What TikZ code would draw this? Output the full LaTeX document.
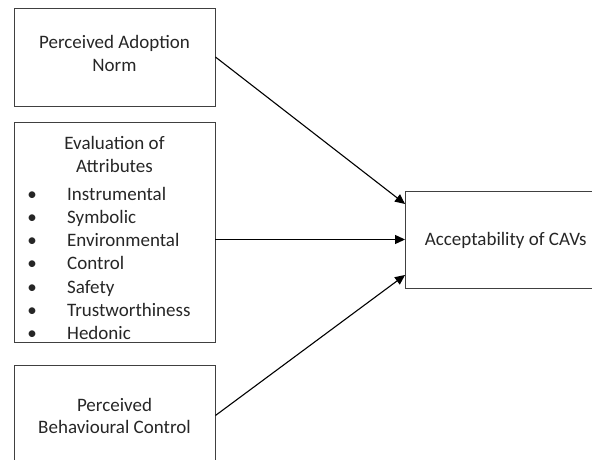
\documentclass[tikz,border=0pt]{standalone}
\usepackage{fontspec}
\setmainfont{Carlito}
\usetikzlibrary{arrows.meta}
\begin{document}
\begin{tikzpicture}[x=1pt,y=-1pt,
  box/.style={draw=black!75, line width=0.9pt, rectangle, inner sep=0pt},
  lbl/.style={anchor=base, inner sep=0pt, font=\fontsize{19}{23.4}\selectfont, text=black!85},
  item/.style={lbl, anchor=base west},
  bul/.style={lbl},
  conn/.style={draw=black, line width=1.1pt, -{Triangle[length=10pt,width=9pt]}}]
\useasboundingbox (0,0) rectangle (592,460);
\clip (0,0) rectangle (592,460);
% boxes
\node[box, minimum width=201pt, minimum height=98pt] (pan) at (114.5,57) {};
\node[box, minimum width=201pt, minimum height=220pt] (attr) at (114.5,232) {};
\node[box, minimum width=201pt, minimum height=101pt] (pbc) at (114.5,415.5) {};
\node[box, minimum width=200.5pt, minimum height=97pt] (acc) at (505.75,239.5) {};
% texts
\node[lbl] (pan1) at (114.5,48.3) {Perceived Adoption};
\node[lbl] (pan2) at (114.5,71.7) {Norm};
\node[lbl] (attr1) at (114.5,149.3) {Evaluation of};
\node[lbl] (attr2) at (114.5,172.7) {Attributes};
\foreach \t [count=\i] in {Instrumental,Symbolic,Environmental,Control,Safety,Trustworthiness,Hedonic}{
  \node[bul] (b\i) at (32,{200+23.33*(\i-1)}) {•};
  \node[item] (it\i) at (67,{200+23.33*(\i-1)}) {\t};
}
\node[lbl] (pbc1) at (114.5,411) {Perceived};
\node[lbl] (pbc2) at (114.5,433.5) {Behavioural Control};
\node[lbl] (acc1) at (505.75,245.7) {Acceptability of CAVs};
% connectors
\draw[conn] (pan.east) -- ([yshift=35.5pt]acc.west);
\draw[conn] (attr.east |- acc.west) -- (acc.west);
\draw[conn] (pbc.east) -- ([yshift=-35.5pt]acc.west);
\end{tikzpicture}
\end{document}
